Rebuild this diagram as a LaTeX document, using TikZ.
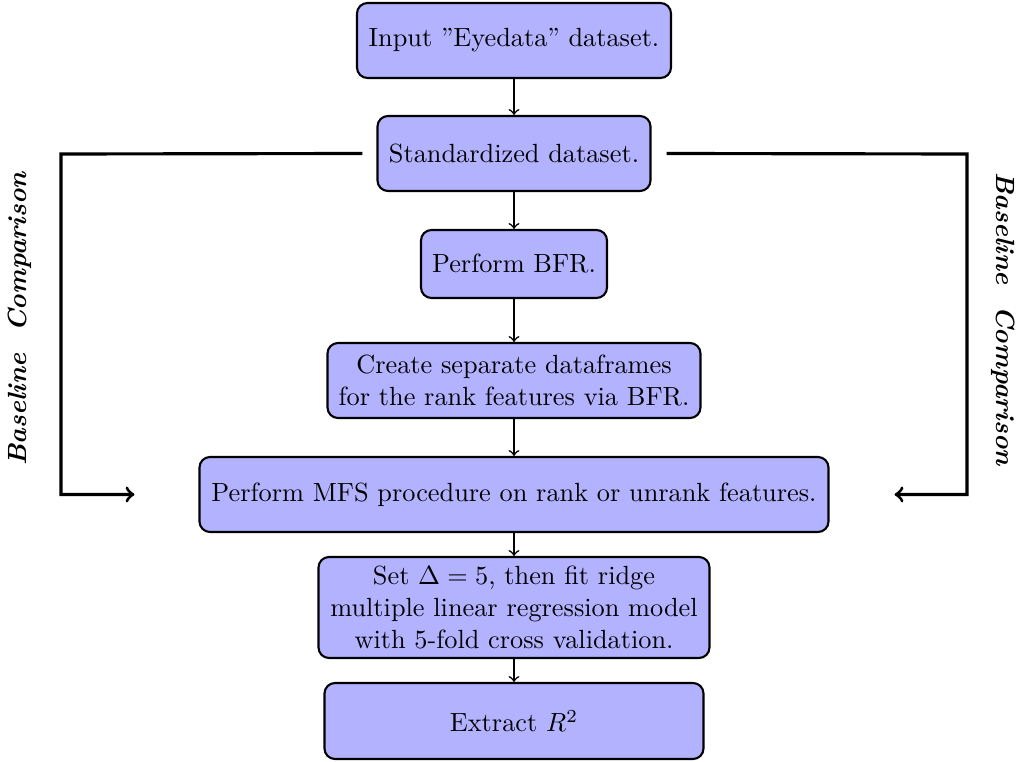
\documentclass[tikz,border=0pt]{standalone}
\usetikzlibrary{positioning}
\newdimen\pxu \pxu=0.3802pt
\begin{document}
\begin{tikzpicture}[x=0.3802pt,y=-0.3802pt,
  box/.style={draw=black, thick, fill=blue!30, rounded corners=4pt, align=center, inner sep=2pt},
  flow/.style={->, semithick},
  base/.style={->, very thick},
  lbl/.style={font=\bfseries\itshape}]
\useasboundingbox (0,0) rectangle (1025,762);
\node[box, minimum width=314\pxu, minimum height=75\pxu] (n1) at (514,40.5) {Input ''Eyedata'' dataset.};
\node[box, minimum width=273\pxu, minimum height=75\pxu] (n2) at (514,153.5) {Standardized dataset.};
\node[box, minimum width=186\pxu, minimum height=68\pxu] (n3) at (514,264) {Perform BFR.};
\node[box, minimum width=373\pxu, minimum height=75\pxu] (n4) at (514,380.5) {Create separate dataframes\\for the rank features via BFR.};
\node[box, minimum width=629\pxu, minimum height=75\pxu] (n5) at (514,494.5) {Perform MFS procedure on rank or unrank features.};
\node[box, minimum width=391\pxu, minimum height=101\pxu] (n6) at (514,607.5) {Set $\Delta=5$, then fit ridge\\multiple linear regression model\\with 5-fold cross validation.};
\node[box, minimum width=379\pxu, minimum height=76\pxu] (n7) at (514,721) {Extract $R^2$};
\draw[flow] (n1.south) -- (n2.north);
\draw[flow] (n2.south) -- (n3.north);
\draw[flow] (n3.south) -- (n4.north);
\draw[flow] (n4.south) -- (n5.north);
\draw[flow] (n5.south) -- (n6.north);
\draw[flow] (n6.south) -- (n7.north);
\coordinate (ls) at ([xshift=-14\pxu]n2.west);
\coordinate (le) at ([xshift=-64\pxu]n5.west);
\coordinate (rs) at ([xshift=15\pxu]n2.east);
\coordinate (re) at ([xshift=65\pxu]n5.east);
\draw[base] (ls) -- (61,154) -- (61,494.5) -- (le);
\draw[base] (rs) -- (967,154) -- (967,494.5) -- (re);
\node[lbl, rotate=90] (bl) at (20,319) {Baseline\ \ Comparison};
\node[lbl, rotate=-90] (br) at (1003,319) {Baseline\ \ Comparison};
\end{tikzpicture}
\end{document}
